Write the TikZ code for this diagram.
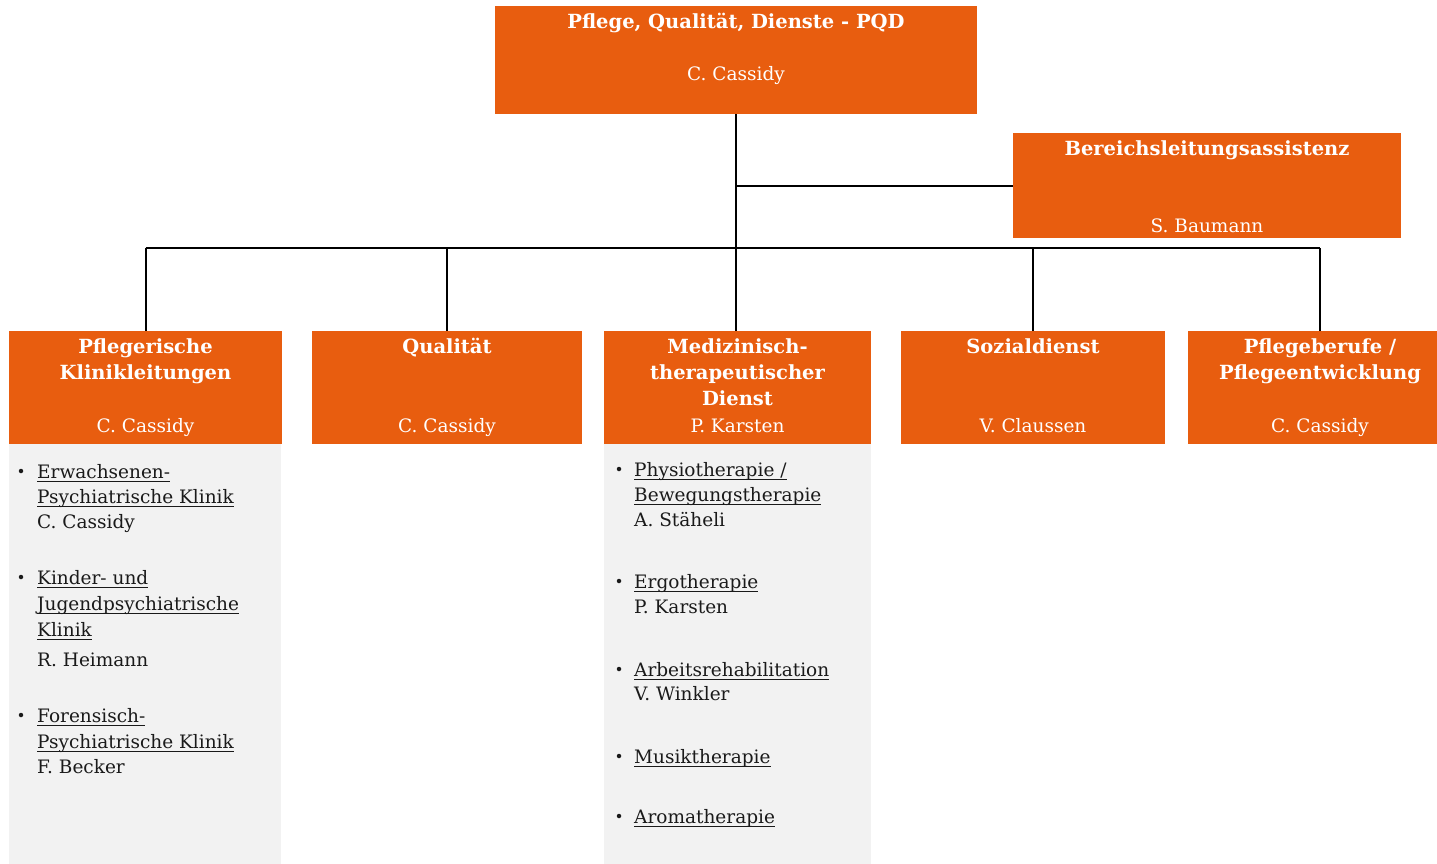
\documentclass[tikz,border=0pt]{standalone}
\usepackage{fontspec}
\setmainfont{DejaVu Serif}
\definecolor{org}{HTML}{E85D0F}
\definecolor{panel}{HTML}{F2F2F2}
\definecolor{txt}{HTML}{1A1A1A}
\newcommand\fsz{\fontsize{18.5}{25}\selectfont}
\newcommand\fszb{\fontsize{19.5}{25}\selectfont}
\newcommand\myul[1]{\setbox0\hbox{#1}\rlap{\rule[-3.5pt]{\wd0}{1pt}}\box0}
\begin{document}
\begin{tikzpicture}[x=1pt,y=-1pt,
  box/.style={fill=org,draw=none,inner sep=0,anchor=north west},
  pan/.style={fill=panel,draw=none,inner sep=0,anchor=north west},
  ttl/.style={text=white,font=\fszb\bfseries,anchor=base,inner sep=0},
  nm/.style={text=white,font=\fsz,anchor=base,inner sep=0},
  item/.style={text=txt,font=\fsz,anchor=base west,inner sep=0},
  bul/.style={circle,fill=txt,inner sep=0,minimum size=4.5},
  conn/.style={draw=black,line width=1.6pt}]
\useasboundingbox[fill=white] (0,0) rectangle (1437,864);
% boxes
\node[box,minimum width=482,minimum height=108] (top) at (495,6) {};
\node[box,minimum width=388,minimum height=105] (asst) at (1013,133) {};
\node[box,minimum width=273,minimum height=113] (pk) at (9,331) {};
\node[box,minimum width=270,minimum height=113] (qu) at (312,331) {};
\node[box,minimum width=267,minimum height=113] (md) at (604,331) {};
\node[box,minimum width=264,minimum height=113] (sd) at (901,331) {};
\node[box,minimum width=264,minimum height=113] (pe) at (1188,331) {};
% panels
\node[pan,minimum width=272,minimum height=420] (p1) at (9,444) {};
\node[pan,minimum width=267,minimum height=420] (p2) at (604,444) {};
% connectors
\coordinate (bus) at (0,248);
\draw[conn] (top.south) -- (top.south |- md.north);
\draw[conn] (top.south |- asst.west) -- (asst.west);
\draw[conn] (pk.north |- bus) -- (pe.north |- bus);
\draw[conn] (pk.north |- bus) -- (pk.north);
\draw[conn] (qu.north |- bus) -- (qu.north);
\draw[conn] (sd.north |- bus) -- (sd.north);
\draw[conn] (pe.north |- bus) -- (pe.north);
% header texts
\node[ttl] (t1) at (736,29) {Pflege, Qualität, Dienste - PQD};
\node[nm] (n1) at (736,81) {C. Cassidy};
\node[ttl] (t2) at (1207,156) {Bereichsleitungsassistenz};
\node[nm] (n2) at (1207,232) {S. Baumann};
\node[ttl] (t3a) at (145.5,353) {Pflegerische};
\node[ttl] (t3b) at (145.5,379) {Klinikleitungen};
\node[nm] (n3) at (145.5,432) {C. Cassidy};
\node[ttl] (t4) at (447,353) {Qualität};
\node[nm] (n4) at (447,432) {C. Cassidy};
\node[ttl] (t5a) at (737.5,353) {Medizinisch-};
\node[ttl] (t5b) at (737.5,379) {therapeutischer};
\node[ttl] (t5c) at (737.5,405) {Dienst};
\node[nm] (n5) at (737.5,432) {P. Karsten};
\node[ttl] (t6) at (1033,353) {Sozialdienst};
\node[nm] (n6) at (1033,432) {V. Claussen};
\node[ttl] (t7a) at (1320,353) {Pflegeberufe /};
\node[ttl] (t7b) at (1320,379) {Pflegeentwicklung};
\node[nm] (n7) at (1320,432) {C. Cassidy};
% list 1
\node[bul] (b11) at (21,471) {};
\node[item] (i11a) at (37,478) {\myul{Erwachsenen-}};
\node[item] (i11b) at (37,503) {\myul{Psychiatrische Klinik}};
\node[item] (i11c) at (37,528) {C. Cassidy};
\node[bul] (b12) at (21,577) {};
\node[item] (i12a) at (37,584) {\myul{Kinder- und}};
\node[item] (i12b) at (37,610) {\myul{Jugendpsychiatrische}};
\node[item] (i12c) at (37,636) {\myul{Klinik}};
\node[item] (i12d) at (37,666) {R. Heimann};
\node[bul] (b13) at (21,715) {};
\node[item] (i13a) at (37,722) {\myul{Forensisch-}};
\node[item] (i13b) at (37,748) {\myul{Psychiatrische Klinik}};
\node[item] (i13c) at (37,773) {F. Becker};
% list 2
\node[bul] (b21) at (619,469) {};
\node[item] (i21a) at (634,476) {\myul{Physiotherapie /}};
\node[item] (i21b) at (634,501) {\myul{Bewegungstherapie}};
\node[item] (i21c) at (634,526) {A. Stäheli};
\node[bul] (b22) at (619,581) {};
\node[item] (i22a) at (634,588) {\myul{Ergotherapie}};
\node[item] (i22b) at (634,613) {P. Karsten};
\node[bul] (b23) at (619,669) {};
\node[item] (i23a) at (634,676) {\myul{Arbeitsrehabilitation}};
\node[item] (i23b) at (634,700) {V. Winkler};
\node[bul] (b24) at (619,756) {};
\node[item] (i24a) at (634,763) {\myul{Musiktherapie}};
\node[bul] (b25) at (619,816) {};
\node[item] (i25a) at (634,823) {\myul{Aromatherapie}};
\end{tikzpicture}
\end{document}
